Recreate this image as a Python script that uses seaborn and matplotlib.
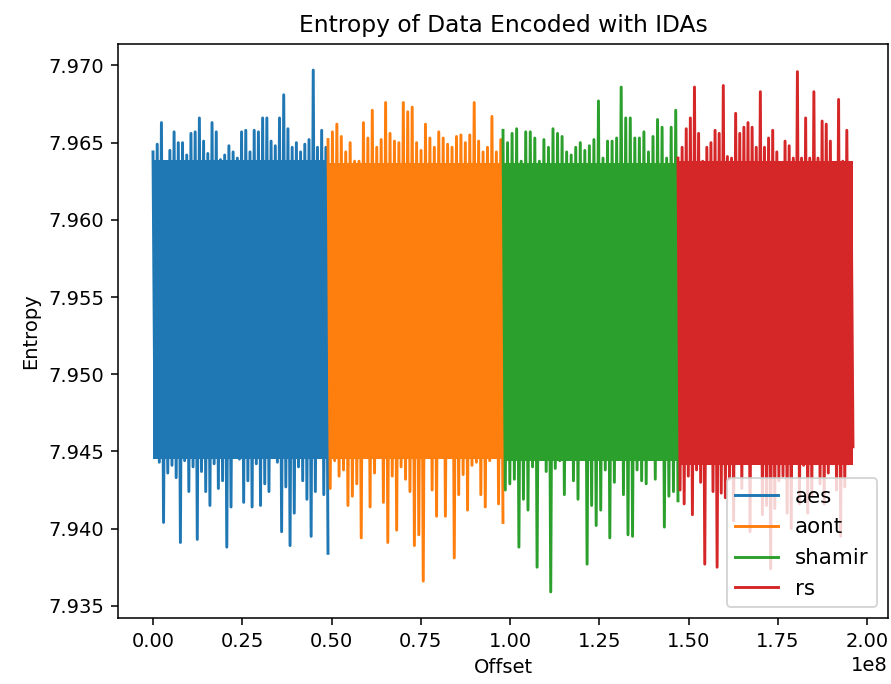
import numpy as np
import matplotlib
matplotlib.use("Agg")
from matplotlib import pyplot as plt
import seaborn as sns

# encoders, in plotting order
names = ["aes", "aont", "shamir", "rs"]
chunk_len = 4.9e7  # offset span covered by each encoded file

# dense core of each trace (lower, upper entropy)
core_lo = [7.9445, 7.9445, 7.9444, 7.9441]
core_hi = [7.9639, 7.9637, 7.9637, 7.9638]

# upward spikes read left to right
aes_high = [7.9644, 7.9649, 7.9663, 7.9634, 7.9645, 7.9657, 7.9650, 7.9650, 7.9642, 7.9656,
            7.9657, 7.9666, 7.9651, 7.9643, 7.9663, 7.9657, 7.9639, 7.9642, 7.9648, 7.9644,
            7.9640, 7.9657, 7.9658, 7.9644, 7.9658, 7.9657, 7.9666, 7.9666, 7.9651, 7.9648,
            7.9666, 7.9681, 7.9659, 7.9647, 7.9650, 7.9644, 7.9649, 7.9652, 7.9697, 7.9647,
            7.9658, 7.9647]
aont_high = [7.9652, 7.9657, 7.9662, 7.9654, 7.9644, 7.9650, 7.9638, 7.9638, 7.9663, 7.9653,
             7.9671, 7.9647, 7.9652, 7.9676, 7.9656, 7.9651, 7.9650, 7.9676, 7.9670, 7.9673,
             7.9650, 7.9645, 7.9662, 7.9653, 7.9647, 7.9657, 7.9653, 7.9649, 7.9647, 7.9654,
             7.9655, 7.9650, 7.9655, 7.9676, 7.9651, 7.9644, 7.9647, 7.9667, 7.9644, 7.9652]
shamir_high = [7.9658, 7.9650, 7.9656, 7.9659, 7.9638, 7.9657, 7.9657, 7.9653, 7.9638, 7.9652,
               7.9647, 7.9659, 7.9656, 7.9654, 7.9644, 7.9642, 7.9647, 7.9650, 7.9645, 7.9648,
               7.9652, 7.9677, 7.9640, 7.9651, 7.9651, 7.9653, 7.9686, 7.9666, 7.9666, 7.9653,
               7.9653, 7.9657, 7.9644, 7.9654, 7.9665, 7.9660, 7.9640, 7.9660, 7.9671]
rs_high = [7.9640, 7.9647, 7.9659, 7.9666, 7.9686, 7.9656, 7.9638, 7.9647, 7.9650, 7.9658,
           7.9656, 7.9687, 7.9641, 7.9640, 7.9669, 7.9656, 7.9660, 7.9663, 7.9660, 7.9647,
           7.9683, 7.9647, 7.9653, 7.9658, 7.9644, 7.9634, 7.9651, 7.9648, 7.9640, 7.9696,
           7.9640, 7.9666, 7.9640, 7.9683, 7.9640, 7.9664, 7.9662, 7.9651, 7.9636, 7.9678,
           7.9638, 7.9658, 7.9634]

# downward spikes read left to right
aes_low = [7.9448, 7.9443, 7.9404, 7.9436, 7.9441, 7.9433, 7.9391, 7.9444, 7.9424, 7.9440,
           7.9393, 7.9437, 7.9424, 7.9415, 7.9442, 7.9426, 7.9431, 7.9388, 7.9414, 7.9452,
           7.9445, 7.9417, 7.9431, 7.9414, 7.9442, 7.9415, 7.9429, 7.9424, 7.9456, 7.9443,
           7.9398, 7.9427, 7.9389, 7.9410, 7.9440, 7.9431, 7.9419, 7.9395, 7.9424, 7.9455,
           7.9422, 7.9384]
aont_low = [7.9426, 7.9444, 7.9434, 7.9438, 7.9415, 7.9421, 7.9429, 7.9394, 7.9451, 7.9414,
            7.9436, 7.9446, 7.9417, 7.9391, 7.9434, 7.9399, 7.9440, 7.9432, 7.9424, 7.9389,
            7.9396, 7.9366, 7.9451, 7.9425, 7.9408, 7.9448, 7.9408, 7.9454, 7.9381, 7.9422,
            7.9435, 7.9412, 7.9441, 7.9443, 7.9422, 7.9414, 7.9444, 7.9453, 7.9416, 7.9404]
shamir_low = [7.9425, 7.9429, 7.9432, 7.9388, 7.9419, 7.9412, 7.9440, 7.9375, 7.9457, 7.9437,
              7.9359, 7.9439, 7.9444, 7.9422, 7.9455, 7.9431, 7.9419, 7.9452, 7.9377, 7.9415,
              7.9402, 7.9412, 7.9438, 7.9394, 7.9430, 7.9448, 7.9422, 7.9396, 7.9395, 7.9438,
              7.9431, 7.9429, 7.9446, 7.9432, 7.9446, 7.9401, 7.9421, 7.9424, 7.9418]
rs_low = [7.9425, 7.9416, 7.9434, 7.9409, 7.9438, 7.9430, 7.9377, 7.9447, 7.9424, 7.9375,
          7.9423, 7.9420, 7.9432, 7.9405, 7.9453, 7.9426, 7.9446, 7.9398, 7.9444, 7.9460,
          7.9409, 7.9415, 7.9374, 7.9413, 7.9431, 7.9434, 7.9410, 7.9400, 7.9453, 7.9416,
          7.9441, 7.9410, 7.9421, 7.9442, 7.9429, 7.9416, 7.9436, 7.9442, 7.9425, 7.9395,
          7.9427, 7.9461, 7.9453]

highs = [aes_high, aont_high, shamir_high, rs_high]
lows = [aes_low, aont_low, shamir_low, rs_low]


def build_trace(high, low, start):
    # alternate up and down spikes so each excursion reads as a vertical stroke
    n = min(len(high), len(low))
    y = np.empty(2 * n)
    y[0::2] = high[:n]
    y[1::2] = low[:n]
    x = start + np.linspace(0, chunk_len, 2 * n)
    return x, y


fig = plt.figure(figsize=(891 / 140, 684 / 140), dpi=140)
ax = fig.add_axes([118 / 891, 66 / 684, 770 / 891, 574 / 684])
palette = sns.color_palette("tab10")

for i, name in enumerate(names):
    start = i * chunk_len
    x, y = build_trace(highs[i], lows[i], start)
    ax.fill_between([start, start + chunk_len], core_lo[i], core_hi[i],
                    color=palette[i], linewidth=0)
    sns.lineplot(x=x, y=y, color=palette[i], label=name, linewidth=1.5,
                 estimator=None, sort=False, ax=ax)

ax.set_title("Entropy of Data Encoded with IDAs")
ax.set_xlabel("Offset")
ax.set_ylabel("Entropy")
ax.legend(loc="lower right", fontsize=11)
fig.savefig("out.png", dpi=140)
